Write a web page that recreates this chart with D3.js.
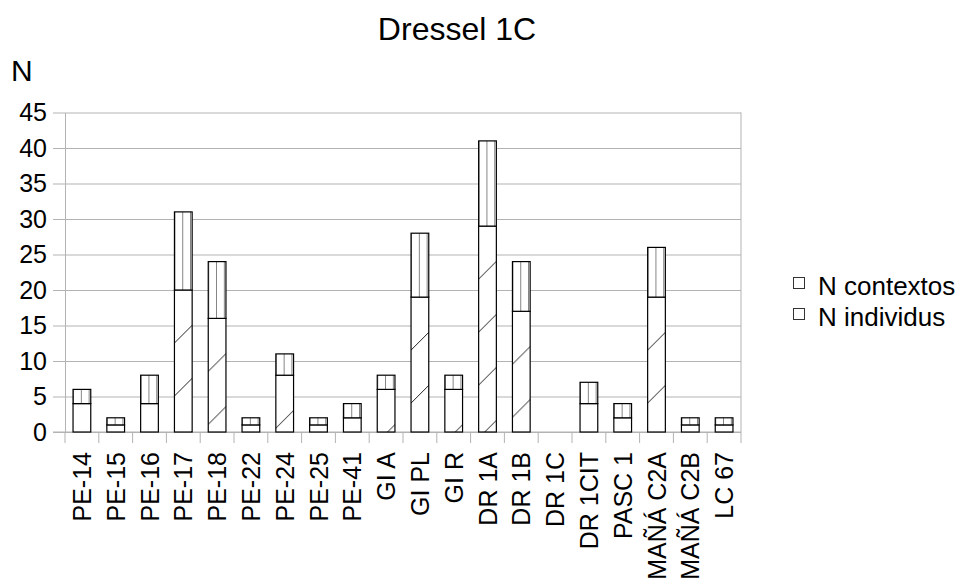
<!DOCTYPE html>
<html>
<head>
<meta charset="utf-8">
<script src="https://cdn.jsdelivr.net/npm/d3@7"></script>
<style>
  html, body { margin: 0; padding: 0; background: #fff; }
  svg { display: block; }
  text { font-family: "Liberation Sans", Arial, sans-serif; fill: #000; }
</style>
</head>
<body>
<svg id="chart" width="959" height="583"></svg>
<script>
const categories = ["PE-14","PE-15","PE-16","PE-17","PE-18","PE-22","PE-24","PE-25","PE-41","GI A","GI PL","GI R","DR 1A","DR 1B","DR 1C","DR 1CIT","PASC 1","MAÑÁ C2A","MAÑÁ C2B","LC 67"];
const individus = [4,1,4,20,16,1,8,1,2,6,19,6,29,17,0,4,2,19,1,1];
const contextos = [2,1,4,11,8,1,3,1,2,2,9,2,12,7,0,3,2,7,1,1];
const yTicks = [0,5,10,15,20,25,30,35,40,45];
const seriesNames = ["N contextos","N individus"];
const titleText = "Dressel 1C";
const yTitle = "N";

const svg = d3.select("#chart");
const plotLeft = 65, plotRight = 741, plotTop = 112.5, plotBottom = 432;
const gridColor = "#b3b3b3";

const x = d3.scaleBand().domain(categories).range([plotLeft, plotRight]).padding(0);
const y = d3.scaleLinear().domain([0, 45]).range([plotBottom, plotTop]);
const barW = x.bandwidth() * 0.524;

const defs = svg.append("defs");

// grid lines
svg.append("g")
  .attr("transform", `translate(${plotLeft},0)`)
  .call(d3.axisLeft(y).tickValues(yTicks).tickSize(-(plotRight - plotLeft)).tickFormat(""))
  .call(g => g.select(".domain").remove())
  .call(g => g.selectAll("line").attr("stroke", gridColor));

// y axis with outer ticks and labels
svg.append("g")
  .attr("transform", `translate(${plotLeft},0)`)
  .call(d3.axisLeft(y).tickValues(yTicks).tickSize(12).tickPadding(6).tickSizeOuter(0))
  .call(g => g.select(".domain").attr("stroke", gridColor))
  .call(g => g.selectAll("line").attr("stroke", gridColor))
  .call(g => g.selectAll("text").attr("font-size", 25).attr("font-family", '"Liberation Sans", Arial, sans-serif').attr("fill", "#000"));

// right border of plot
svg.append("line")
  .attr("x1", plotRight).attr("x2", plotRight).attr("y1", y(45)).attr("y2", y(0))
  .attr("stroke", gridColor);

// bottom axis line
svg.append("line")
  .attr("x1", plotLeft - 12).attr("x2", plotRight).attr("y1", y(0)).attr("y2", y(0))
  .attr("stroke", gridColor);

// category boundary ticks
const boundaries = categories.map(c => x(c)).concat([x.range()[1]]);
svg.append("g").selectAll("line").data(boundaries).join("line")
  .attr("x1", d => d).attr("x2", d => d)
  .attr("y1", y(0)).attr("y2", y(0) + 11)
  .attr("stroke", gridColor);

// bars
const diagP = 53, vertP = 7.8;
const barsG = svg.append("g");
categories.forEach((c, i) => {
  const bx = x(c) + (x.bandwidth() - barW) / 2;
  const ind = individus[i], ctx = contextos[i];
  if (ind > 0) {
    const ty = y(ind);
    const pid = "diag" + i;
    const p = defs.append("pattern").attr("id", pid)
      .attr("patternUnits", "userSpaceOnUse")
      .attr("x", bx).attr("y", ty).attr("width", diagP).attr("height", diagP);
    p.append("rect").attr("width", diagP).attr("height", diagP).attr("fill", "#fff");
    p.append("line").attr("x1", 0).attr("y1", diagP).attr("x2", diagP).attr("y2", 0)
      .attr("stroke", "#222").attr("stroke-width", 1);
    barsG.append("rect")
      .attr("x", bx).attr("y", ty).attr("width", barW).attr("height", y(0) - ty)
      .attr("fill", `url(#${pid})`).attr("stroke", "#000").attr("stroke-width", 1.2);
  }
  if (ctx > 0) {
    const ty = y(ind + ctx);
    const pid = "vert" + i;
    const p = defs.append("pattern").attr("id", pid)
      .attr("patternUnits", "userSpaceOnUse")
      .attr("x", bx).attr("y", ty).attr("width", vertP).attr("height", 100);
    p.append("rect").attr("width", vertP).attr("height", 100).attr("fill", "#fff");
    p.append("line").attr("x1", 0).attr("y1", 0).attr("x2", 0).attr("y2", 100)
      .attr("stroke", "#333").attr("stroke-width", 1.2);
    barsG.append("rect")
      .attr("x", bx).attr("y", ty).attr("width", barW).attr("height", y(ind) - ty)
      .attr("fill", `url(#${pid})`).attr("stroke", "#000").attr("stroke-width", 1.2);
  }
});

// x labels
svg.append("g").selectAll("text").data(categories).join("text")
  .attr("transform", d => `translate(${x(d) + x.bandwidth() / 2},452) rotate(-90)`)
  .attr("text-anchor", "end")
  .attr("dy", "0.36em")
  .attr("font-size", 25)
  .text(d => d);

// title
svg.append("text").attr("x", 457).attr("y", 39.5).attr("text-anchor", "middle")
  .attr("font-size", 32).text(titleText);

// y title
svg.append("text").attr("x", 11).attr("y", 80.5).attr("font-size", 30).text(yTitle);

// legend
const legend = svg.append("g");
seriesNames.forEach((name, i) => {
  const ly = 294.5 + i * 31;
  legend.append("rect").attr("x", 793.5).attr("y", ly - 17).attr("width", 11).attr("height", 11)
    .attr("fill", "#fff").attr("stroke", "#333").attr("stroke-width", 1);
  legend.append("text").attr("x", 818).attr("y", ly).attr("font-size", 26).text(name);
});
</script>
</body>
</html>
